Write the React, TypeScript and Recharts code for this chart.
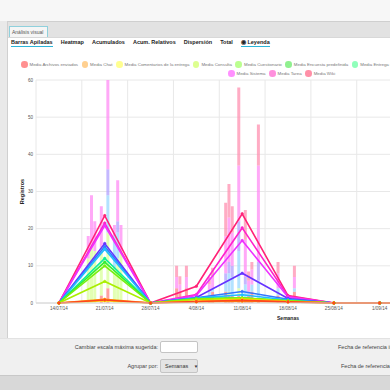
import { ComposedChart, Bar, Line, XAxis, YAxis, CartesianGrid, ReferenceLine } from "recharts";

// weeks (days since 14/07/14)
const WEEK_DAYS = [0, 7, 14, 21, 28, 35, 42, 49, 56, 63, 70];
const WEEK_LABELS = ["14/07/14", "21/07/14", "28/07/14", "4/08/14", "11/08/14", "18/08/14", "25/08/14", "1/09/14", "8/09/14", "15/09/14", "22/09/14"];
const Y_TICKS = [0, 10, 20, 30, 40, 50, 60];

const SERIES_NAMES = [
  "Media Archivos enviados", "Media Chat", "Media Comentarios de la entrega", "Media Consulta",
  "Media Cuestionario", "Media Encuesta predefinida", "Media Entrega de tareas", "Media Foro",
  "Media Glosario", "Media Recurso", "Media Sistema", "Media Tarea", "Media Wiki",
];
const LINE_COLORS = ["#ff4422", "#ff9900", "#ffdd00", "#aaee00", "#77ee11", "#33ee33", "#11ee99", "#22bbff", "#3377ff", "#6633ff", "#ee33ff", "#ff22cc", "#ff2277"];
const LEGEND_COLORS = ["#ff9090", "#ffd090", "#ffff90", "#ddff90", "#bbff90", "#90f090", "#90ffbb", "#90eeff", "#90b0ff", "#b090ff", "#ff90ff", "#ff90dd", "#ff90a8"];

const ARCHIVOS = [0, 0.8, 0, 0.4, 0.7, 0.3, 0, 0, 0, 0, 0];
const CHAT = [0, 1.0, 0, 0.3, 0.5, 0.3, 0, 0, 0, 0, 0];
const COMENTARIOS = [0, 0.6, 0, 0.5, 1.0, 0.4, 0, 0, 0, 0, 0];
const CONSULTA = [0, 5.8, 0, 1.0, 1.3, 0.5, 0, 0, 0, 0, 0];
const CUESTIONARIO = [0, 10, 0, 1.0, 1.2, 0.5, 0, 0, 0, 0, 0];
const ENCUESTA = [0, 11, 0, 1.1, 1.3, 0.6, 0, 0, 0, 0, 0];
const ENTREGA = [0, 12, 0, 1.2, 1.4, 0.6, 0, 0, 0, 0, 0];
const FORO = [0, 14.5, 0, 1.3, 2.2, 0.8, 0, 0, 0, 0, 0];
const GLOSARIO = [0, 15.2, 0, 1.4, 3.1, 1.0, 0, 0, 0, 0, 0];
const RECURSO = [0, 16, 0, 1.5, 8, 1.2, 0, 0, 0, 0, 0];
const SISTEMA = [0, 20.8, 0, 2.0, 16.8, 1.6, 0, 0, 0, 0, 0];
const TAREA = [0, 21.5, 0, 2.3, 20.2, 1.8, 0, 0, 0, 0, 0];
const WIKI = [0, 23.5, 0, 4.5, 24, 2.0, 0, 0, 0, 0, 0];
const LINE_VALUES = [ARCHIVOS, CHAT, COMENTARIOS, CONSULTA, CUESTIONARIO, ENCUESTA, ENTREGA, FORO, GLOSARIO, RECURSO, SISTEMA, TAREA, WIKI];

// daily stacked bars
const BAR_DAYS = [4.5, 5, 5.5, 6.5, 7.5, 8.5, 9, 9.5, 18, 18.5, 19.5, 23, 23.5, 25.5, 26, 26.5, 27.5, 28.5, 29, 29.5, 30.5, 33.5, 36];
const BAR_ARCH = [0, 0, 0, 2, 4, 0, 0, 0, 4, 3, 4, 2, 3, 3, 2, 2, 2, 1, 2, 3, 1, 2, 3];
const BAR_CONS = [12, 15, 14, 13, 15, 9, 12, 14, 0, 0, 0, 0, 0, 0, 1, 0, 2, 0, 0, 0, 0, 0, 0];
const BAR_FORO = [0, 0, 0, 0, 10, 9, 7, 0, 0, 0, 0, 1, 1, 3, 5, 5, 10, 4, 1, 2, 5, 2, 1];
const BAR_RECU = [0, 0, 0, 0, 7, 0, 3, 0, 0, 0, 0, 0, 0, 2, 3, 3, 8, 2, 0, 0, 5, 0, 0];
const BAR_SIST = [6, 14, 8, 11, 24, 3, 11, 7, 3, 2, 3, 2, 3, 10, 12, 9, 15, 10, 3, 4, 26, 4, 3];
const BAR_WIKI = [0, 0, 0, 0, 0, 0, 0, 0, 3, 2.2, 3, 2, 2.5, 9, 9, 7, 21, 8, 2.5, 2, 11, 3, 3];
const BAR_SEGMENTS = [
  { key: "bArch", values: BAR_ARCH, color: "#ff8080" },
  { key: "bCons", values: BAR_CONS, color: "#d8ff99" },
  { key: "bForo", values: BAR_FORO, color: "#99d8ff" },
  { key: "bRecu", values: BAR_RECU, color: "#b0a0ff" },
  { key: "bSist", values: BAR_SIST, color: "#ff8cf4" },
  { key: "bWiki", values: BAR_WIKI, color: "#ff90b0" },
];

type Row = Record<string, number | null>;

function buildData() {
  const map = new Map<number, Row>();
  const get = (d: number) => {
    if (!map.has(d)) {
      const r: Row = { day: d };
      LINE_VALUES.forEach((_, i) => (r["s" + i] = null));
      BAR_SEGMENTS.forEach((b) => (r[b.key] = 0));
      map.set(d, r);
    }
    return map.get(d)!;
  };
  WEEK_DAYS.forEach((d, i) => {
    const r = get(d);
    LINE_VALUES.forEach((vals, s) => (r["s" + s] = vals[i]));
  });
  BAR_DAYS.forEach((d, i) => {
    const r = get(d);
    BAR_SEGMENTS.forEach((b) => (r[b.key] = b.values[i]));
  });
  return [...map.values()].sort((a, b) => (a.day as number) - (b.day as number));
}

const data = buildData();
const labelOf = (v: number) => WEEK_LABELS[WEEK_DAYS.indexOf(v)] ?? "";
const MID_WEEKS = [...WEEK_DAYS.map((d) => d - 3.5), 73.5];

const FONT = "'Liberation Sans', Arial, sans-serif";
const TABS = ["Barras Apiladas", "Heatmap", "Acumulados", "Acum. Relativos", "Dispersión", "Total", "◉ Leyenda"];

function LegendItem({ i }: { i: number }) {
  return (
    <div style={{ display: "flex", alignItems: "center", marginRight: 3.5, whiteSpace: "nowrap" }}>
      <span style={{ width: 6.5, height: 6.5, borderRadius: "50%", background: LEGEND_COLORS[i], marginRight: 2, display: "inline-block" }} />
      <span style={{ fontSize: 4.4, color: "#777" }}>{SERIES_NAMES[i]}</span>
    </div>
  );
}

export default function App() {
  return (
    <div style={{ position: "fixed", left: 0, top: 0, width: 390, height: 390, overflow: "hidden", background: "#fff", fontFamily: FONT }}>
      {/* top bars */}
      <div style={{ position: "absolute", left: 0, top: 0, width: 390, height: 21, background: "#f7f7f7" }} />
      <div style={{ position: "absolute", left: 0, top: 21, width: 390, height: 16, background: "#e2e2e2", borderTop: "1px solid #cfcfcf", boxSizing: "border-box" }} />
      <div style={{ position: "absolute", left: 0, top: 21, width: 7, height: 317, background: "#e9e9e9", borderRight: "1px solid #d0d0d0" }} />
      <div style={{ position: "absolute", left: 9, top: 26, width: 39, height: 11, background: "#f5f5f5", border: "1px solid #8fd0dc", borderBottom: "none", boxSizing: "border-box", fontSize: 5, color: "#555", lineHeight: "10px", paddingLeft: 2 }}>
        Análisis visual
      </div>
      <div style={{ position: "absolute", left: 8, top: 37, width: 382, height: 11, background: "#fff", borderTop: "1px solid #d8d8d8", boxSizing: "border-box" }} />
      <div style={{ position: "absolute", left: 11, top: 39, display: "flex", gap: 8 }}>
        {TABS.map((t, i) => (
          <div key={t} style={{ fontSize: 5.5, fontWeight: 700, color: "#222", paddingBottom: 1, borderBottom: i === 0 || i === 6 ? "1.5px solid #2bb5d8" : "1.5px solid transparent", whiteSpace: "nowrap" }}>
            {t}
          </div>
        ))}
      </div>

      {/* legend */}
      <div style={{ position: "absolute", left: 21, top: 61, display: "flex" }}>
        {SERIES_NAMES.slice(0, 10).map((_, i) => <LegendItem key={i} i={i} />)}
      </div>
      <div style={{ position: "absolute", left: 228, top: 70, display: "flex" }}>
        {SERIES_NAMES.slice(10).map((_, i) => <LegendItem key={i} i={i + 10} />)}
      </div>

      {/* chart */}
      <div style={{ position: "absolute", left: 8, top: 48 }}>
        <ComposedChart width={546} height={290} data={data} margin={{ top: 32, right: 14, bottom: 23, left: 8 }} style={{ fontFamily: FONT }}>
          <CartesianGrid vertical={false} stroke="#e8e8e8" />
          {MID_WEEKS.map((x) => (
            <ReferenceLine key={x} x={x} stroke="#e8e8e8" ifOverflow="visible" />
          ))}
          <XAxis
            type="number"
            dataKey="day"
            domain={[-3.5, 73.5]}
            ticks={WEEK_DAYS}
            interval={0}
            tickFormatter={labelOf}
            allowDataOverflow
            height={12}
            tickLine={false}
            tickSize={0}
            tickMargin={4}
            axisLine={{ stroke: "#d4d4d4" }}
            tick={{ fontSize: 4.6, fill: "#555" }}
            label={{ value: "Semanas", position: "bottom", offset: 1.5, style: { fontSize: 5, fontWeight: 700, fill: "#222" } }}
          />
          <YAxis
            domain={[0, 60]}
            ticks={Y_TICKS}
            width={20}
            axisLine={false}
            tickLine={false}
            tickSize={0}
            tickMargin={3}
            tick={{ fontSize: 4.6, fill: "#555" }}
            label={{ value: "Registros", angle: -90, position: "insideLeft", offset: 6, style: { textAnchor: "middle", fontSize: 5.5, fontWeight: 700, fill: "#222" } }}
          />
          {BAR_SEGMENTS.map((b) => (
            <Bar key={b.key} dataKey={b.key} stackId="b" fill={b.color} fillOpacity={0.75} barSize={3} isAnimationActive={false} />
          ))}
          {LINE_VALUES.map((_, i) => LINE_VALUES.length - 1 - i).map((i) => (
            <Line
              key={i}
              dataKey={"s" + i}
              name={SERIES_NAMES[i]}
              type="linear"
              stroke={LINE_COLORS[i]}
              strokeWidth={1.6}
              dot={{ r: 1.3, fill: LINE_COLORS[i], stroke: LINE_COLORS[i], strokeWidth: 0.5 }}
              connectNulls
              isAnimationActive={false}
            />
          ))}
        </ComposedChart>
      </div>

      {/* bottom controls */}
      <div style={{ position: "absolute", left: 0, top: 338, width: 390, height: 37, background: "#f0f0f0", borderTop: "1px solid #e2e2e2", boxSizing: "border-box" }} />
      <div style={{ position: "absolute", left: 0, top: 375, width: 390, height: 15, background: "#d8d8d8", borderTop: "1px solid #c8c8c8", boxSizing: "border-box" }} />
      <div style={{ position: "absolute", right: 232, top: 344, fontSize: 5.5, color: "#444", whiteSpace: "nowrap" }}>Cambiar escala máxima sugerida:</div>
      <div style={{ position: "absolute", left: 160, top: 341, width: 38, height: 12, background: "#fff", border: "1px solid #c4c4c4", borderRadius: 2, boxSizing: "border-box" }} />
      <div style={{ position: "absolute", right: 232, top: 363, fontSize: 5.5, color: "#444", whiteSpace: "nowrap" }}>Agrupar por:</div>
      <div style={{ position: "absolute", left: 160, top: 359, width: 38, height: 14, background: "#e4e4e4", border: "1px solid #c4c4c4", borderRadius: 2, boxSizing: "border-box", fontSize: 5.5, color: "#333", lineHeight: "12px", paddingLeft: 4, whiteSpace: "nowrap" }}>
        Semanas <span style={{ fontSize: 4.5, marginLeft: 4 }}>▼</span>
      </div>
      <div style={{ position: "absolute", left: 338, top: 344, fontSize: 5.5, color: "#444", whiteSpace: "nowrap" }}>Fecha de referencia inicial:</div>
      <div style={{ position: "absolute", left: 341, top: 363, fontSize: 5.5, color: "#444", whiteSpace: "nowrap" }}>Fecha de referencia final:</div>
    </div>
  );
}
